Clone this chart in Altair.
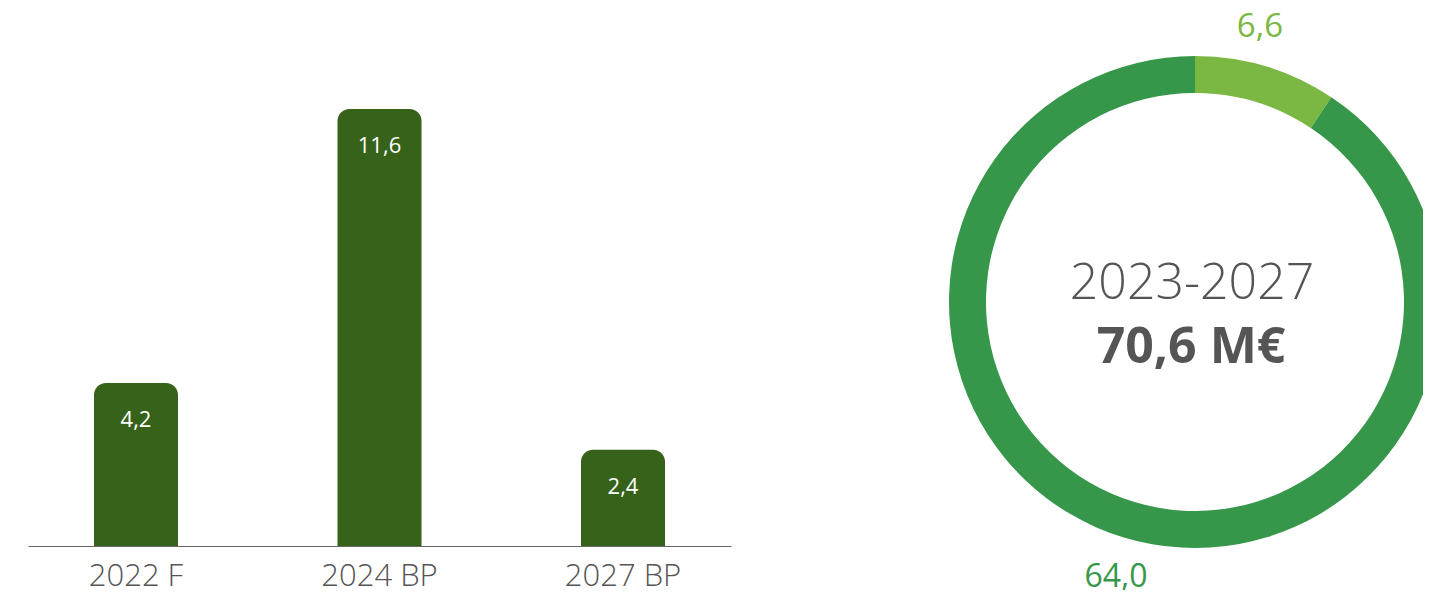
import altair as alt
import pandas as pd

# ---- data ----
categories = ["2022 F", "2024 BP", "2027 BP"]
values = [4.2, 11.6, 2.4]
value_labels = ["4,2", "11,6", "2,4"]

donut_parts = ["Part A", "Part B"]
donut_values = [6.6, 64.0]
donut_labels = ["6,6", "64,0"]
donut_order = [0, 1]
donut_colors = ["#7ab843", "#36974a"]
center_title = ["2023-2027"]
center_total = ["70,6 M€"]

bars_df = pd.DataFrame({"cat": categories, "value": values, "label": value_labels})
donut_df = pd.DataFrame({"part": donut_parts, "value": donut_values,
                         "label": donut_labels, "order": donut_order})
title_df = pd.DataFrame({"t": center_title})
total_df = pd.DataFrame({"t": center_total})
lab_a_df = pd.DataFrame({"t": [donut_labels[0]]})
lab_b_df = pd.DataFrame({"t": [donut_labels[1]]})

FONT = "Open Sans"
CX, CY = 1167, 294

x = alt.X(
    "cat:N", sort=categories, title=None,
    scale=alt.Scale(paddingInner=0.655, paddingOuter=0.271),
    axis=alt.Axis(labelAngle=0, labelFontSize=31, labelFont=FONT, labelFontWeight=300,
                  labelColor="#555555", domainColor="#666666", domainWidth=1,
                  ticks=False, tickSize=0, labelPadding=15, grid=False),
)
y = alt.Y("value:Q", scale=alt.Scale(domain=[-0.2, 14.33], nice=False, zero=False), axis=None)

bars = alt.Chart(bars_df).mark_bar(
    color="#37621a", cornerRadiusTopLeft=12, cornerRadiusTopRight=12
).encode(x=x, y=y, y2=alt.datum(-0.2))

bar_text = alt.Chart(bars_df).mark_text(
    dy=44, baseline="alphabetic", color="white", fontSize=22, font=FONT, fontWeight=500
).encode(x=x, y=y, text="label:N")

theta = alt.Theta("value:Q", stack=True)
color = alt.Color("part:N", scale=alt.Scale(domain=donut_parts, range=donut_colors), legend=None)
order = alt.Order("order:Q")

arc = alt.Chart(donut_df).mark_arc(outerRadius=246, innerRadius=209).encode(
    theta=theta, color=color, order=order, x=alt.value(CX), y=alt.value(CY)
)

lab_a = alt.Chart(lab_a_df).mark_text(
    fontSize=33, font=FONT, fontWeight=400, color=donut_colors[0], baseline="alphabetic"
).encode(text="t:N", x=alt.value(1232), y=alt.value(29))

lab_b = alt.Chart(lab_b_df).mark_text(
    fontSize=32, font=FONT, fontWeight=400, color=donut_colors[1], baseline="alphabetic"
).encode(text="t:N", x=alt.value(1088), y=alt.value(579))

title_text = alt.Chart(title_df).mark_text(
    fontSize=50, font=FONT, fontWeight=300, color="#555555", baseline="alphabetic"
).encode(text="t:N", x=alt.value(CX - 3), y=alt.value(291))

total_text = alt.Chart(total_df).mark_text(
    fontSize=50, font=FONT, fontWeight=700, color="#555555", baseline="alphabetic"
).encode(text="t:N", x=alt.value(CX - 4), y=alt.value(355))

chart = alt.layer(bars, bar_text, arc, lab_a, lab_b, title_text, total_text).properties(
    width=703, height=538,
    autosize=alt.AutoSizeParams(type="none"),
    padding={"left": 20, "top": 0, "right": 692, "bottom": 44},
).configure_view(stroke=None)

chart.save("out.html", embed_options={"renderer": "svg", "actions": False})
